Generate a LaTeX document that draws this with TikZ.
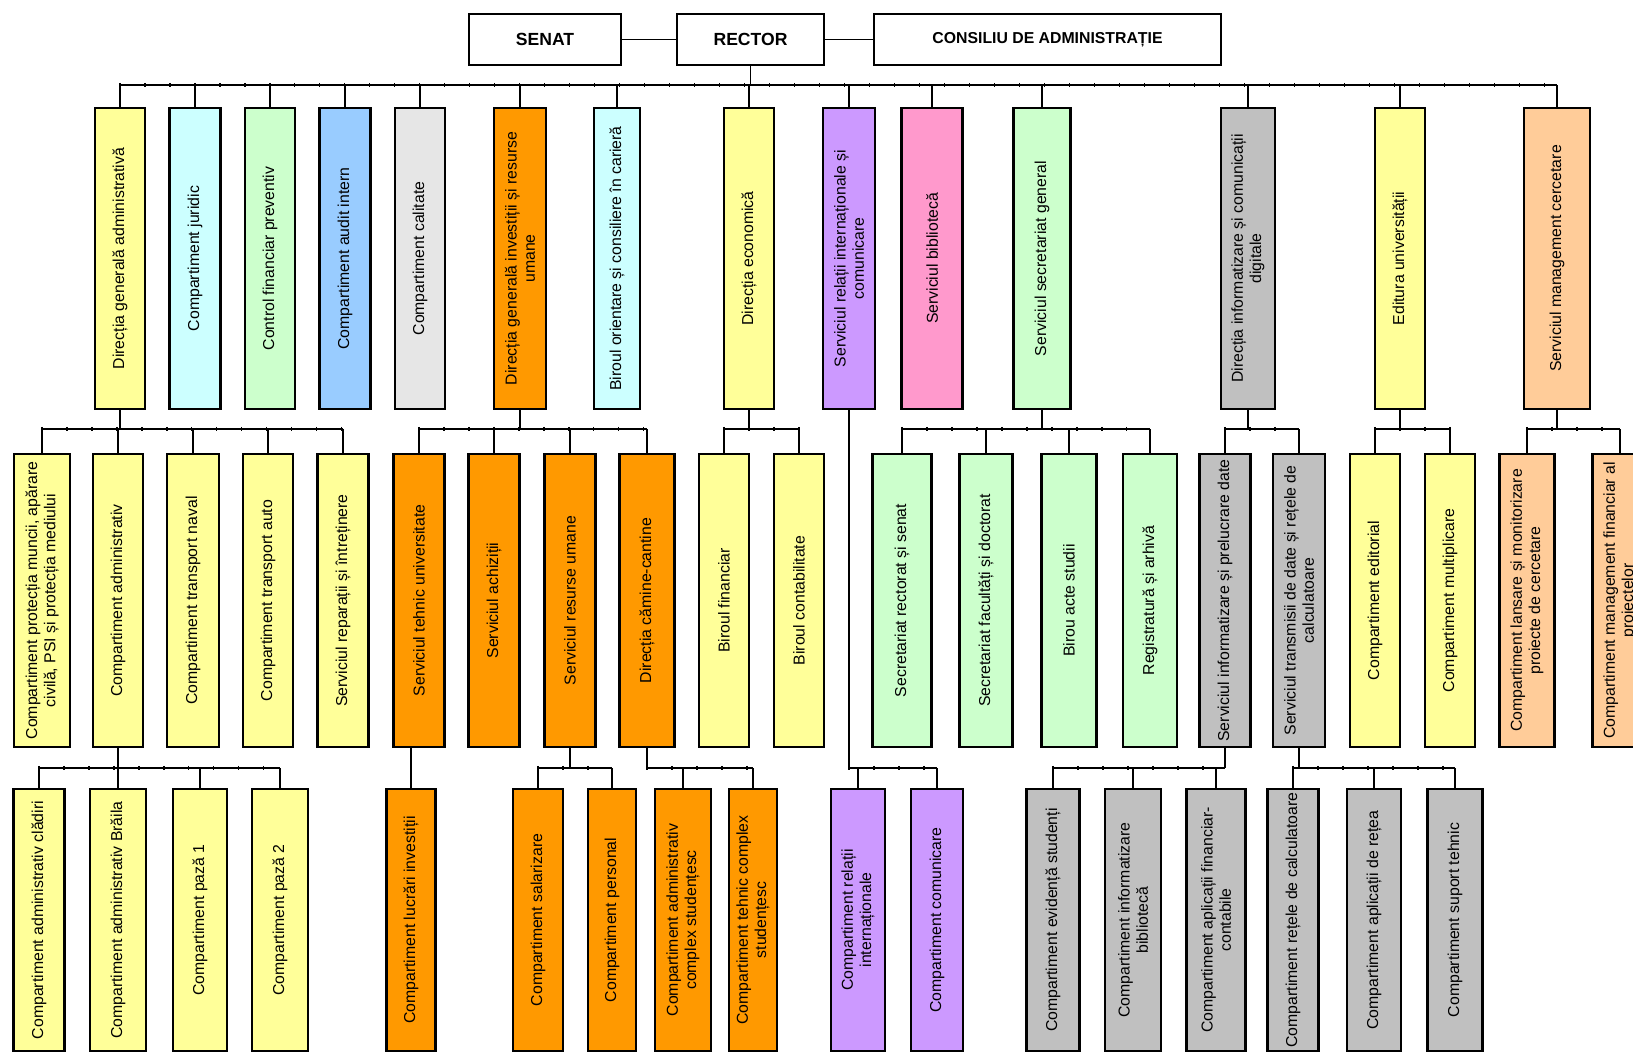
\documentclass[tikz,border=0pt]{standalone}
\usepackage{fontspec}
\setmainfont{Liberation Sans}
\usepackage{graphicx}
\usetikzlibrary{decorations.pathreplacing}

\definecolor{cgalben}{HTML}{FFFF99}
\definecolor{cazur}{HTML}{CCFFFF}
\definecolor{cverde}{HTML}{CCFFCC}
\definecolor{calbastru}{HTML}{99CCFF}
\definecolor{cgri}{HTML}{E6E6E6}
\definecolor{cportocaliu}{HTML}{FF9900}
\definecolor{cmov}{HTML}{CC99FF}
\definecolor{croz}{HTML}{FF99CC}
\definecolor{cargintiu}{HTML}{C0C0C0}
\definecolor{cpiersica}{HTML}{FFCC99}

% vertical label, #1 = length of the box
\newcommand{\vlab}[2]{\rotatebox{90}{\parbox{#1}{\centering #2}}}

\begin{document}
\begin{tikzpicture}[x=0.02cm,y=-0.02cm,
  unit/.style={draw,line width=1.4pt,inner sep=0pt,font=\fontsize{9}{10.4}\selectfont},
  head/.style={draw,line width=1.6pt,inner sep=0pt,minimum height=1.02cm,font=\bfseries\fontsize{10}{12}\selectfont},
  link/.style={line width=0.6pt},
  bus/.style={link,postaction={draw,decorate,decoration={ticks,segment length=0.5cm,amplitude=1.2pt}}}]
\useasboundingbox (0,0) rectangle (1633,1055);

% conducere
\node[head,minimum width=3.04cm] (senat) at (545,39.5) {SENAT};
\node[head,minimum width=2.94cm] (rector) at (750.5,39.5) {RECTOR};
\node[head,minimum width=6.94cm,font=\bfseries\fontsize{9}{11}\selectfont] (consiliu) at (1047.5,39.5) {CONSILIU DE ADMINISTRAȚIE};
\draw[link] (senat) -- (rector);
\draw[link] (rector) -- (consiliu);

% nivel 1
\foreach \i/\x/\w/\col/\nume in {
  1/120/50/cgalben/{Direcția generală administrativă},
  2/195/51/cazur/{Compartiment juridic},
  3/270/50/cverde/{Control financiar preventiv},
  4/345/51/calbastru/{Compartiment audit intern},
  5/420/50/cgri/{Compartiment calitate},
  6/520/52/cportocaliu/{Direcția generală investiții și resurse\\umane},
  7/617/46/cazur/{Biroul orientare și consiliere în carieră},
  8/749/50/cgalben/{Direcția economică},
  9/849/52/cmov/{Serviciul relații internaționale și\\comunicare},
  10/932/61/croz/{Serviciul bibliotecă},
  11/1042/57/cverde/{Serviciul secretariat general},
  12/1248/54/cargintiu/{Direcția informatizare și comunicații\\digitale},
  13/1400/50/cgalben/{Editura universității},
  14/1557/66/cpiersica/{Serviciul management cercetare}}
  \node[unit,fill=\col,minimum width=\w*0.02cm,minimum height=6.02cm] (s\i) at (\x,258.5) {\vlab{5.95cm}{\nume}};

\coordinate (nivel1) at (0,85);
\draw[link] (rector) -- (rector |- nivel1);
\draw[bus] (s1.north |- nivel1) -- (s14.north |- nivel1);
\foreach \i in {1,...,14} \draw[link] (s\i.north |- nivel1) -- (s\i.north);

% nivel 2
\foreach \i/\x/\w/\col/\nume in {
  a1/42/56/cgalben/{Compartiment protecția muncii, apărare\\civilă, PSI și protecția mediului},
  a2/118/50/cgalben/{Compartiment administrativ},
  a3/193/52/cgalben/{Compartiment transport naval},
  a4/268/50/cgalben/{Compartiment transport auto},
  a5/343/51/cgalben/{Serviciul reparații și întreținere},
  b1/419/51/cportocaliu/{Serviciul tehnic universitate},
  b2/494/51/cportocaliu/{Serviciul achiziții},
  b3/570/51/cportocaliu/{Serviciul resurse umane},
  b4/647/55/cportocaliu/{Direcția cămine-cantine},
  c1/724/50/cgalben/{Biroul financiar},
  c2/799/50/cgalben/{Biroul contabilitate},
  d1/902/59/cverde/{Secretariat rectorat și senat},
  d2/986/53/cverde/{Secretariat facultăți și doctorat},
  d3/1069/55/cverde/{Birou acte studii},
  d4/1150/54/cverde/{Registratură și arhivă},
  e1/1225/51/cargintiu/{Serviciul informatizare și prelucrare date},
  e2/1299/52/cargintiu/{Serviciul transmisii de date și rețele de\\calculatoare},
  f1/1375/50/cgalben/{Compartiment editorial},
  f2/1450/50/cgalben/{Compartiment multiplicare},
  g1/1527/55/cpiersica/{Compartiment lansare și monitorizare\\proiecte de cercetare},
  g2/1620/55/cpiersica/{Compartiment management financiar al\\proiectelor}}
  \node[unit,fill=\col,minimum width=\w*0.02cm,minimum height=5.86cm] (\i) at (\x,600.5) {\vlab{5.8cm}{\nume}};

\coordinate (nivel2) at (0,429);
\foreach \p/\first/\last/\kids in {s1/a1/a5/{a1,a2,a3,a4,a5}, s6/b1/b4/{b1,b2,b3,b4},
    s8/c1/c2/{c1,c2}, s11/d1/d4/{d1,d2,d3,d4}, s12/e1/e2/{e1,e2}, s13/f1/f2/{f1,f2}, s14/g1/g2/{g1,g2}}{
  \draw[link] (\p.south) -- (\p.south |- nivel2);
  \draw[bus] (\first.north |- nivel2) -- (\last.north |- nivel2);
  \foreach \k in \kids \draw[link] (\k.north |- nivel2) -- (\k.north);
}

% nivel 3
\foreach \i/\x/\w/\col/\nume in {
  h1/39/51/cgalben/{Compartiment administrativ clădiri},
  h2/118/56/cgalben/{Compartiment administrativ Brăila},
  h3/200/54/cgalben/{Compartiment pază 1},
  h4/280/56/cgalben/{Compartiment pază 2},
  i1/411/49/cportocaliu/{Compartiment lucrări investiții},
  j1/538/50/cportocaliu/{Compartiment salarizare},
  j2/612/48/cportocaliu/{Compartiment personal},
  k1/683/56/cportocaliu/{Compartiment administrativ\\complex studențesc},
  k2/753/48/cportocaliu/{Compartiment tehnic complex\\studențesc},
  l1/858/54/cmov/{Compartiment relații\\internaționale},
  l2/937/52/cmov/{Compartiment comunicare},
  m1/1053/53/cargintiu/{Compartiment evidență studenți},
  m2/1133/56/cargintiu/{Compartiment informatizare\\bibliotecă},
  m3/1216/59/cargintiu/{Compartiment aplicații financiar-\\contabile},
  p1/1293/51/cargintiu/{Compartiment rețele de calculatoare},
  p2/1374/54/cargintiu/{Compartiment aplicații de rețea},
  p3/1455/55/cargintiu/{Compartiment suport tehnic}}
  \node[unit,fill=\col,minimum width=\w*0.02cm,minimum height=5.24cm] (\i) at (\x,920) {\vlab{5.2cm}{\nume}};

\coordinate (nivel3) at (0,768);
\foreach \p/\first/\last/\kids in {a2/h1/h4/{h1,h2,h3,h4}, b3/j1/j2/{j1,j2}, b4/b4/k2/{k1,k2},
    s9/s9/l2/{l1,l2}, e1/m1/e1/{m1,m2,m3}, e2/p1/p3/{p1,p2,p3}}{
  \draw[link] (\p.south) -- (\p.south |- nivel3);
  \draw[bus] (\first.north |- nivel3) -- (\last.north |- nivel3);
  \foreach \k in \kids \draw[link] (\k.north |- nivel3) -- (\k.north);
}
\draw[link] (b1.south -| i1.north) -- (i1.north);
\end{tikzpicture}
\end{document}
